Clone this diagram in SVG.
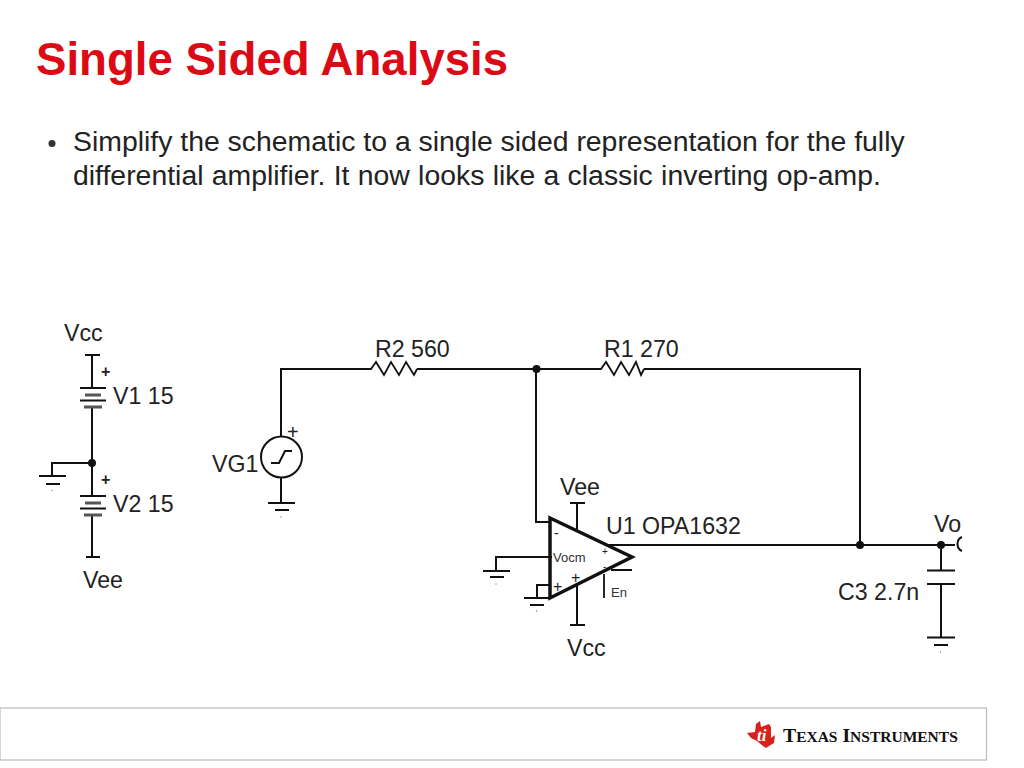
<svg xmlns="http://www.w3.org/2000/svg" width="1024" height="768" viewBox="0 0 1024 768">
<style>
text{font-family:"Liberation Sans",Arial,sans-serif;fill:#222}
.w{fill:none;stroke:#111;stroke-width:2}
.t{fill:none;stroke:#111;stroke-width:1.8}
.b{fill:none;stroke:#555;stroke-width:3}
.l{font-size:23.200px}
.s{font-size:13px;fill:#333}
.d{fill:#111}
.p{fill:#777}
</style>
<rect width="1024" height="768" fill="#fff"/>
<g id="title"><text x="36" y="75" font-size="45.600" font-weight="bold" style="fill:#dc0a14">Single Sided Analysis</text></g>
<g id="body">
<circle cx="52" cy="143.500" r="3.500" fill="#333"/>
<text x="73" y="151" font-size="28.400">Simplify the schematic to a single sided representation for the fully</text>
<text x="73" y="185" font-size="28.400" word-spacing="0.400">differential amplifier. It now looks like a classic inverting op-amp.</text>
</g>
<g id="connectors">
<path class="w" d="M281 436V369H363M417 369H592M644 369H860V545M536 369V522H549M605 545H955"/>
<path class="t" d="M363 369H371L376 362L384 375L391 362L399 375L406 362L414 375L417 369"/>
<path class="t" d="M592 369H601L606 362L614 375L621 362L629 375L636 362L641 375L644 369"/>
<circle class="d" cx="536.500" cy="369" r="4"/>
<circle class="d" cx="860" cy="545" r="4"/>
<circle class="d" cx="941" cy="545" r="4"/>
</g>
<g id="V1">
<path class="w" d="M92 355V388M92 407V463M85 355H100M80 388H106M80 400.500H106"/>
<path class="b" d="M85 395H101M84 407H102"/>
<text class="l" x="64" y="341">Vcc</text>
<text x="101" y="377" font-size="16" font-weight="bold">+</text>
<text class="l" x="113" y="404">V1 15</text>
</g>
<g id="V2">
<path class="w" d="M92 463V496M92 515V557M86 557H100M80 496H106M80 508.500H106"/>
<path class="b" d="M85 503H101M84 515H102"/>
<text x="101" y="485" font-size="16" font-weight="bold">+</text>
<text class="l" x="113" y="512">V2 15</text>
<text class="l" x="83" y="588">Vee</text>
</g>
<g id="junctionGnd">
<circle class="d" cx="92" cy="463" r="4"/>
<path class="w" d="M92 463H52V476M39 476H66M46 484H60"/>
<circle class="p" cx="52" cy="490.500" r="0.700"/>
</g>
<g id="VG1">
<circle cx="281.500" cy="457" r="20.500" fill="#fff" stroke="#111" stroke-width="2"/>
<path class="w" d="M271 463H279L285 451H292"/>
<path class="w" d="M281 478V503M268 503H295M275 510H289"/>
<circle class="p" cx="281" cy="517" r="0.700"/>
<text x="287" y="439" font-size="20">+</text>
<text class="l" x="212" y="472">VG1</text>
</g>
<g id="R2"><text class="l" x="375" y="357">R2 560</text></g>
<g id="R1"><text class="l" x="604" y="357">R1 270</text></g>
<g id="U1">
<path d="M550 518L632 557L550 598Z" fill="#fff" stroke="#111" stroke-width="3.500" stroke-linejoin="miter"/>
<path class="w" d="M577 503V530M570 503H585M577 585V625M570 625H585"/>
<path class="w" d="M552 557H496V571M483 571H510M490 577H504"/>
<path class="w" d="M550 585H537V598M550 598H524M530 605H544"/>
<path class="t" d="M611 570H632M604 574V598"/>
<circle class="p" cx="496" cy="584" r="0.700"/>
<circle class="p" cx="536.500" cy="611" r="0.700"/>
<text x="554" y="538" font-size="14">-</text>
<text x="553" y="592" font-size="16">+</text>
<text x="571" y="583" font-size="16">+</text>
<text x="602" y="555" font-size="10">+</text>
<text x="603" y="570" font-size="10">-</text>
<text class="s" x="553" y="562">Vocm</text>
<text class="s" x="611" y="597">En</text>
<text class="l" x="560" y="495">Vee</text>
<text class="l" x="606" y="534">U1 OPA1632</text>
<text class="l" x="567" y="656">Vcc</text>
</g>
<g id="C3">
<path class="w" d="M941 549V570.500M927 570.500H955M927 584H955M941 584V637.500M927 637.500H955M934 645H948"/>
<circle class="p" cx="940.500" cy="652" r="0.700"/>
<text class="l" x="838" y="600">C3 2.7n</text>
</g>
<g id="Vo">
<text class="l" x="934" y="532">Vo</text>
<path class="w" d="M962 537A7 7.500 0 0 0 962 551"/>
</g>
<g id="footer">
<rect x="0" y="708" width="986.500" height="52" fill="#fff" stroke="#bbb" stroke-width="1.200"/>
<path d="M747 733L755 732L756 724L760 721L761 727L769 724L771 727L771 738L775 735L774 743L769 746L766 748L763 746L757 741L751 738Z" fill="#d8201c"/>
<text x="757" y="741" font-size="17" font-weight="bold" font-style="italic" style="font-family:'Liberation Serif',serif;fill:#fff">ti</text>
<text x="783" y="742" font-size="19.700" font-weight="bold" style="font-family:'Liberation Serif',serif;fill:#111">T<tspan font-size="15.500">EXAS</tspan> I<tspan font-size="15.500">NSTRUMENTS</tspan></text>
</g>
</svg>
